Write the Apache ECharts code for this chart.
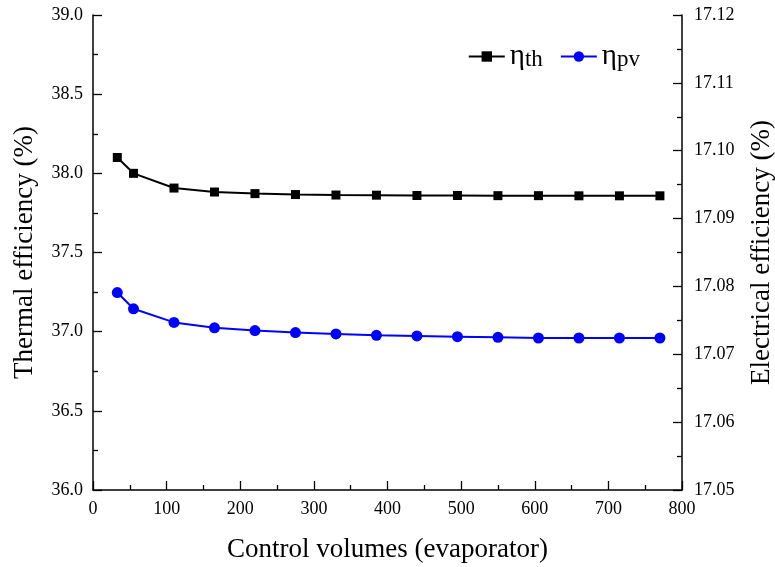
<!DOCTYPE html>
<html>
<head>
<meta charset="utf-8">
<script src="https://cdn.jsdelivr.net/npm/echarts@6/dist/echarts.min.js"></script>
<style>html,body{margin:0;padding:0;background:#fff}#c{width:775px;height:567px}</style>
</head>
<body>
<div id="c"></div>
<script>
const controlVolumes = [33, 55, 110, 165, 220, 275, 330, 385, 440, 495, 550, 605, 660, 715, 770];
const thermalEff = [38.10, 38.00, 37.907, 37.882, 37.872, 37.866, 37.863, 37.862, 37.860, 37.860, 37.859, 37.859, 37.858, 37.858, 37.858];
const electricalEff = [17.0791, 17.0767, 17.0747, 17.0739, 17.0735, 17.0732, 17.0730, 17.0728, 17.0727, 17.0726, 17.0725, 17.0724, 17.0724, 17.0724, 17.0724];
const seriesNames = ['th', 'pv'];

const FONT = 'Liberation Serif';
const chart = echarts.init(document.getElementById('c'));
const zip = (xs, ys) => xs.map((x, i) => [x, ys[i]]);
const tickCfg = { inside: true, length: 9, lineStyle: { color: '#000', width: 1.3 } };
const minorCfg = { show: true, splitNumber: 2, length: 5, lineStyle: { color: '#000', width: 1.3 } };
const labelCfg = { fontFamily: FONT, fontSize: 18, color: '#000' };
const nameCfg = { fontFamily: FONT, fontSize: 27, color: '#000' };

chart.setOption({
  animation: false,
  backgroundColor: '#fff',
  textStyle: { fontFamily: FONT },
  grid: { left: 93, right: 93, top: 15, bottom: 77, outerBoundsMode: 'none', containLabel: false },
  legend: {
    right: 130, top: 37,
    itemWidth: 36, itemHeight: 13, itemGap: 17,
    data: seriesNames,
    formatter: n => '{a|η}{b|' + n + '}',
    textStyle: {
      fontFamily: FONT, color: '#000',
      rich: {
        a: { fontSize: 29, fontFamily: FONT, color: '#000', verticalAlign: 'bottom' },
        b: { fontSize: 23, fontFamily: FONT, color: '#000', verticalAlign: 'bottom', padding: [5, 0, 0, 0] }
      }
    }
  },
  xAxis: {
    type: 'value', min: 0, max: 800, interval: 100,
    name: 'Control volumes (evaporator)', nameLocation: 'middle', nameGap: 46,
    nameTextStyle: nameCfg,
    axisLine: { lineStyle: { color: '#000', width: 1.5 } },
    axisTick: tickCfg,
    minorTick: minorCfg,
    splitLine: { show: false },
    axisLabel: Object.assign({ margin: 10 }, labelCfg)
  },
  yAxis: [
    {
      type: 'value', min: 36, max: 39, interval: 0.5, position: 'left',
      name: 'Thermal efficiency (%)', nameLocation: 'middle', nameGap: 55,
      nameTextStyle: nameCfg,
      axisLine: { show: true, lineStyle: { color: '#000', width: 1.5 } },
      axisTick: tickCfg,
      minorTick: minorCfg,
      splitLine: { show: false },
      axisLabel: Object.assign({ margin: 10, formatter: v => v.toFixed(1) }, labelCfg)
    },
    {
      type: 'value', min: 17.05, max: 17.12, interval: 0.01, position: 'right',
      name: 'Electrical efficiency (%)', nameLocation: 'middle', nameGap: 66,
      nameRotate: 90,
      nameTextStyle: nameCfg,
      axisLine: { show: true, lineStyle: { color: '#000', width: 1.5 } },
      axisTick: tickCfg,
      minorTick: minorCfg,
      splitLine: { show: false },
      axisLabel: Object.assign({ margin: 12, formatter: v => v.toFixed(2) }, labelCfg)
    }
  ],
  series: [
    {
      name: seriesNames[0], type: 'line', yAxisIndex: 0,
      data: zip(controlVolumes, thermalEff),
      symbol: 'rect', symbolSize: 9,
      lineStyle: { color: '#000', width: 2 },
      itemStyle: { color: '#000' }
    },
    {
      name: seriesNames[1], type: 'line', yAxisIndex: 1,
      data: zip(controlVolumes, electricalEff),
      symbol: 'circle', symbolSize: 11,
      lineStyle: { color: '#0000ff', width: 2 },
      itemStyle: { color: '#0000ff' }
    }
  ]
});
</script>
</body>
</html>
